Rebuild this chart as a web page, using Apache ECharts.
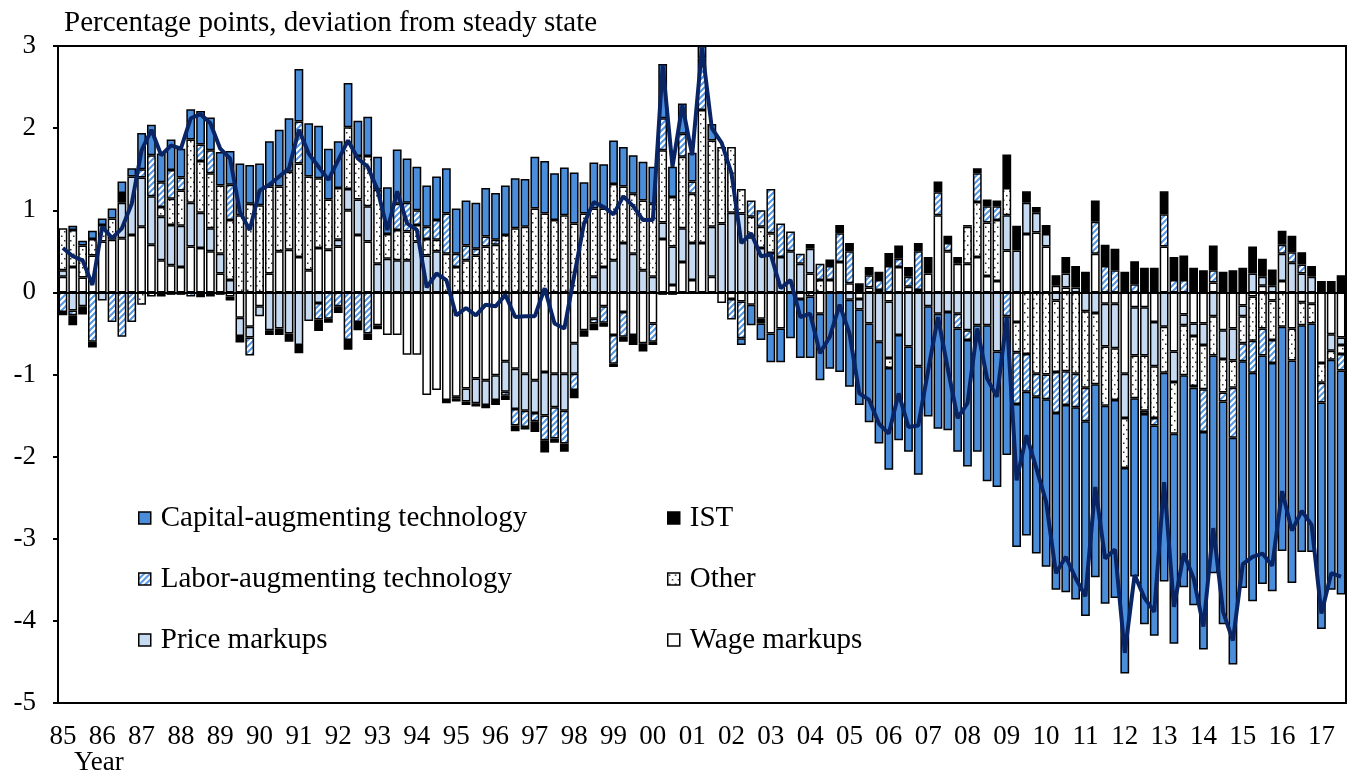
<!DOCTYPE html>
<html>
<head>
<meta charset="utf-8">
<script src="https://cdn.jsdelivr.net/npm/echarts@6/dist/echarts.min.js"></script>
<style>
  html, body { margin: 0; padding: 0; background: #fff; }
  #chart { width: 1353px; height: 777px; }
</style>
</head>
<body>
<div id="chart"></div>
<script>
// years shown on the axis; 2017 has three quarters only
const years = ['85','86','87','88','89','90','91','92','93','94','95','96','97','98','99','00','01','02','03','04','05','06','07','08','09','10','11','12','13','14','15','16','17'];

// contributions, quarterly 1985Q1 - 2017Q3
const wage = [
  0.19,0.31,0.18,0.45,0.62,0.64,0.66,0.7,0.8,0.58,
  0.39,0.33,0.31,0.56,0.54,0.5,0.23,-0.05,-0.31,-0.42,
  -0.17,0.23,0.5,0.52,0.43,0.27,0.54,0.52,0.56,1.0,
  0.7,0.62,-0.4,-0.52,-0.52,-0.76,-0.76,-1.25,-1.19,-1.31,
  -1.27,-1.17,-1.05,-1.07,-1.01,-0.84,-0.93,-0.99,-1.07,-0.97,
  -0.99,-0.99,-0.62,-0.46,-0.32,-0.17,-0.52,-0.24,-0.52,-0.62,
  -0.38,0.65,0.09,0.37,0.15,0.6,0.19,-0.13,-0.08,-0.11,
  -0.15,-0.32,-0.5,-0.44,0,-0.08,0.23,-0.26,0.15,0.37,
  0.11,-0.08,0.06,0.03,-0.11,0.31,0.07,0.03,0.23,0.94,
  0.5,0.35,0.35,0.43,0.2,0.14,0.51,-0.36,0.71,0.73,
  0.56,0.08,0.06,0,0,0.47,-0.14,-0.14,-0.99,-0.18,
  -0.18,-0.36,0.56,-0.72,-0.27,-0.38,-0.38,0.12,-0.46,-0.44,
  -0.16,-0.05,0.08,-0.1,0.14,-0.44,-0.12,-0.14,-0.86,-0.51,
  -0.55
];
const price = [
  0.08,-0.22,-0.17,0,-0.1,0,0.43,0.71,0.6,0.59,
  0.53,0.49,0.5,0.53,0.43,0.28,0.24,0.15,-0.22,-0.13,
  -0.12,-0.46,-0.44,-0.5,-0.64,-0.35,-0.13,0,0.08,0.26,
  0.43,0.43,0.35,0.41,0.39,0.39,0.62,0.45,0.5,0,
  -0.02,-0.16,-0.3,-0.3,-0.3,-0.37,-0.49,-0.45,-0.4,-0.53,
  -0.41,-0.45,-0.37,0,0.19,0.31,0.39,0.6,0.47,0.27,
  0.19,0.2,0.47,0.41,0.45,0,0.61,0.84,0.97,0.96,
  0.67,0.54,0.48,0.43,0.5,0.35,0.3,0,0,0,
  -0.09,-0.13,-0.38,-0.6,-0.69,-0.52,-0.66,-0.9,-0.17,-0.26,
  -0.24,-0.26,-0.46,-0.4,-0.4,-0.72,0.43,0.51,0.38,0.24,
  0.15,-0.1,0.17,0.06,-0.23,-0.25,-0.52,-0.54,-0.54,-0.59,
  -0.59,-0.54,-0.42,-0.37,-0.13,-0.15,-0.26,-0.29,-0.35,-0.39,
  -0.13,0.23,0.11,0.08,0.33,0.36,0.23,0.19,0,-0.2,
  -0.09
];
const other = [
  0.51,0.45,0.39,0.2,0.2,0.26,0,0,-0.15,-0.05,
  0.12,0.32,0.43,0.77,0.63,0.67,0.83,0.73,0.94,1.08,
  1.06,1.06,0.79,0.95,1.14,1.14,0.85,0.61,0.63,0.75,
  0.53,0.61,0.9,0.3,0.37,0.35,0.2,0.2,0.14,0.47,
  0.31,0.39,0.45,0.56,0.58,0.7,0.78,0.8,1.02,0.96,
  0.88,0.94,0.84,0.96,0.83,0.71,0.93,0.69,0.73,0.85,
  0.89,0.88,0.6,0.87,0.6,1.62,1.05,0.93,0.8,0.3,
  0.25,0.26,0.24,0,0,0,-0.05,0.15,0,0,
  0,0,0,0,-0.12,0,0,0,0,0,
  0,0,0.45,0.67,0.65,0.74,0.33,-0.37,-0.75,-0.99,
  -1.0,-0.87,-0.96,-0.99,-0.93,-0.87,-0.72,-0.63,-0.61,-0.52,
  -0.67,-0.63,-0.56,-0.63,-0.61,-0.61,-0.54,-0.48,-0.41,-0.33,
  -0.33,-0.54,-0.44,-0.48,-0.42,-0.39,-0.28,-0.24,-0.24,-0.11,
  -0.11
];
const labor = [
  -0.24,-0.06,0,-0.6,0,-0.36,-0.54,-0.36,0.1,0.5,
  0.3,0.35,0.16,-0.05,0.2,0.28,-0.03,0.43,0,-0.22,
  0,0,0,0,0.51,0,-0.2,-0.32,-0.17,-0.58,
  -0.36,-0.5,0,0,0.32,0.35,0.18,0.15,0.24,0.49,
  0.16,0.18,0.08,0.12,0.06,-0.05,-0.2,-0.2,-0.1,-0.3,
  -0.38,-0.4,-0.2,0,-0.06,-0.2,-0.35,-0.3,0,0,
  -0.22,0.39,0,0.28,0.15,0.63,0,0,-0.25,-0.45,
  0.2,0.2,0.54,0.41,0.24,0.12,0,0.2,0.17,0.35,
  0.39,0,0.15,0.12,0.32,0.1,0.12,0.47,0,0.28,
  0.1,-0.18,-0.12,0.35,0.2,0.17,-0.29,-0.63,-0.46,-0.28,
  -0.3,-0.5,-0.41,-0.41,-0.41,0.39,0.32,0.27,0,0.1,
  -0.04,-0.09,0.39,0.15,0.15,-0.02,-0.52,0.15,-0.11,-0.61,
  -0.22,-0.39,-0.33,-0.28,0.11,0.13,0.11,0,-0.24,0,
  -0.2
];
const ist = [
  -0.04,-0.12,-0.1,-0.07,0,0,0.12,0,0,0,
  -0.05,-0.03,-0.03,0,-0.06,-0.05,0,-0.05,-0.08,0,
  0,-0.06,-0.08,-0.1,-0.1,0,-0.14,-0.05,-0.08,-0.12,
  -0.1,-0.08,-0.05,0,0,0,0,0,0,-0.04,
  -0.04,-0.04,-0.04,-0.04,-0.06,-0.05,-0.07,-0.03,-0.13,-0.15,
  -0.05,-0.1,-0.1,-0.08,-0.08,-0.05,-0.04,-0.06,-0.12,-0.1,
  -0.04,-0.03,-0.03,0,0,0,0,0,0,0,
  0,-0.06,0,0,0,0,0.06,0,0.08,0.1,
  0.1,0.11,0.1,0.1,0.16,0.16,0.12,0.1,0.2,0.13,
  0.09,0.08,0.02,0.06,0.08,0.07,0.41,0.3,0.14,0.07,
  0.11,0.13,0.2,0.26,0.25,0.26,0.26,0.26,0.25,0.28,
  0.3,0.3,0.28,0.28,0.3,0.3,0.27,0.3,0.25,0.27,
  0.3,0.33,0.22,0.2,0.17,0.2,0.15,0.13,0.14,0.14,
  0.21
];
const capital = [
  0,0.05,0.06,0.1,0.08,0.12,0.14,0.1,0.44,0.37,
  0.35,0.37,0.35,0.37,0.41,0.4,0.41,0.41,0.63,0.47,
  0.51,0.55,0.69,0.65,0.64,0.65,0.64,0.62,0.57,0.54,
  0.43,0.48,0.4,0.57,0.66,0.54,0.53,0.5,0.53,0.55,
  0.55,0.55,0.56,0.59,0.57,0.6,0.61,0.58,0.63,0.64,
  0.57,0.58,0.62,0.38,0.56,0.54,0.53,0.48,0.47,0.47,
  0.45,0.66,0.37,0.37,0.35,0.15,0.2,0,0,-0.08,
  -0.25,-0.2,-0.35,-0.41,-0.56,-0.72,-0.75,-0.81,-0.93,-0.97,
  -1.06,-1.16,-1.2,-1.24,-1.24,-1.28,-1.28,-1.32,-1.34,-1.4,
  -1.44,-1.5,-1.54,-1.54,-1.9,-1.65,-1.69,-1.74,-1.75,-1.91,
  -2.04,-2.15,-2.28,-2.34,-2.37,-2.35,-2.41,-2.41,-2.5,-2.17,
  -2.56,-2.56,-2.54,-2.56,-2.58,-2.65,-2.65,-2.65,-2.71,-2.76,
  -2.76,-2.78,-2.78,-2.78,-2.73,-2.71,-2.76,-2.78,-2.76,-2.8,
  -2.73
];
// total deviation (line)
const total = [
  0.54,0.44,0.39,0.09,0.8,0.66,0.78,1.08,1.73,1.98,
  1.67,1.79,1.75,2.12,2.17,2.06,1.75,1.63,0.98,0.76,
  1.24,1.31,1.41,1.51,1.98,1.69,1.53,1.37,1.61,1.85,
  1.63,1.53,1.25,0.76,1.23,0.84,0.76,0.06,0.23,0.15,
  -0.28,-0.19,-0.28,-0.15,-0.17,-0.03,-0.3,-0.29,-0.29,0.05,
  -0.38,-0.44,0.2,0.84,1.1,1.04,0.95,1.17,1.05,0.88,
  0.88,2.77,1.53,2.28,1.67,2.98,2.0,1.82,1.45,0.6,
  0.72,0.44,0.46,0.05,0.15,-0.3,-0.26,-0.74,-0.54,-0.15,
  -0.5,-1.23,-1.31,-1.6,-1.72,-1.23,-1.64,-1.62,-0.95,-0.3,
  -0.93,-1.53,-1.35,-0.44,-1.05,-1.27,-0.31,-2.29,-1.74,-2.14,
  -2.55,-3.42,-3.22,-3.48,-3.7,-2.37,-3.24,-3.13,-4.39,-3.44,
  -3.72,-3.89,-2.31,-3.83,-3.18,-3.48,-4.07,-2.87,-3.89,-4.24,
  -3.31,-3.22,-3.18,-3.33,-2.42,-2.9,-2.66,-2.83,-3.91,-3.42,
  -3.46
];

const quarters = [];
years.forEach((y, k) => {
  const n = k === years.length - 1 ? 3 : 4;
  for (let q = 1; q <= n; q++) quarters.push(y + 'Q' + q);
});

const FONT = 'Liberation Serif';
const CAP_BLUE = '#4a8ddb';
const LIGHT_BLUE = '#c6daf2';

function hatchPattern() {
  const c = document.createElement('canvas');
  c.width = 6; c.height = 6;
  const g = c.getContext('2d');
  g.fillStyle = '#fff';
  g.fillRect(0, 0, 6, 6);
  g.strokeStyle = '#5596e2';
  g.lineWidth = 2;
  g.beginPath();
  g.moveTo(-1, 7); g.lineTo(7, -1);
  g.moveTo(-4, 4); g.lineTo(4, -4);
  g.moveTo(2, 10); g.lineTo(10, 2);
  g.stroke();
  return c;
}

function dotPattern() {
  const c = document.createElement('canvas');
  c.width = 6; c.height = 9;
  const g = c.getContext('2d');
  g.fillStyle = '#fff';
  g.fillRect(0, 0, 6, 9);
  g.fillStyle = '#333';
  g.fillRect(1, 1.5, 1.5, 1.5);
  g.fillRect(4, 6, 1.5, 1.5);
  return c;
}

// zero contributions are not drawn
const clean = arr => arr.map(v => (v === 0 ? '-' : v));

function barSeries(name, data, color) {
  return {
    name: name,
    type: 'bar',
    stack: 'total',
    barWidth: 8.8,
    data: clean(data),
    itemStyle: { color: color, borderColor: '#000', borderWidth: 1.5 },
    emphasis: { disabled: true }
  };
}

const chart = echarts.init(document.getElementById('chart'), null, { renderer: 'canvas' });

const legendText = { fontFamily: FONT, fontSize: 29, color: '#000', lineHeight: 32, padding: [0, 0, 0, 5] };

chart.setOption({
  animation: false,
  backgroundColor: '#fff',
  textStyle: { fontFamily: FONT },
  title: {
    text: 'Percentage points, deviation from steady state',
    left: 59, top: 4,
    textStyle: { fontFamily: FONT, fontSize: 29, fontWeight: 'normal', color: '#000' }
  },
  legend: [
    {
      orient: 'vertical', left: 138, top: 502, padding: 0,
      itemWidth: 12, itemHeight: 12, itemGap: 29, icon: 'rect',
      itemStyle: { borderColor: '#000', borderWidth: 1.5 },
      textStyle: legendText,
      selectedMode: false,
      data: ['Capital-augmenting technology', 'Labor-augmenting technology', 'Price markups']
    },
    {
      orient: 'vertical', left: 667, top: 502, padding: 0,
      itemWidth: 12, itemHeight: 12, itemGap: 29, icon: 'rect',
      itemStyle: { borderColor: '#000', borderWidth: 1.5 },
      textStyle: legendText,
      selectedMode: false,
      data: ['IST', 'Other', 'Wage markups']
    }
  ],
  grid: {
    left: 58, right: 7, top: 46, bottom: 74,
    show: true, borderColor: '#000', borderWidth: 2, backgroundColor: 'transparent'
  },
  xAxis: {
    type: 'category',
    data: quarters,
    boundaryGap: true,
    axisLine: { onZero: false, lineStyle: { color: '#000', width: 2 } },
    axisTick: {
      inside: true, length: 8, interval: 3,
      lineStyle: { color: '#000', width: 2 }
    },
    axisLabel: {
      interval: 3,
      formatter: v => v.slice(0, 2),
      fontFamily: FONT, fontSize: 27, color: '#000', margin: 20
    },
    splitLine: { show: false }
  },
  yAxis: {
    type: 'value',
    min: -5, max: 3, interval: 1,
    axisLine: { show: true, lineStyle: { color: '#000', width: 2 } },
    axisTick: { show: true, length: 5, lineStyle: { color: '#000', width: 2 } },
    axisLabel: { fontFamily: FONT, fontSize: 27, color: '#000', margin: 22 },
    splitLine: { show: false }
  },
  graphic: [
    {
      type: 'text', left: 74, top: 749,
      style: { text: 'Year', font: '27px "Liberation Serif"', fill: '#000' }
    }
  ],
  series: [
    barSeries('Wage markups', wage, '#fff'),
    barSeries('Price markups', price, LIGHT_BLUE),
    barSeries('Other', other, { image: dotPattern(), repeat: 'repeat' }),
    barSeries('Labor-augmenting technology', labor, { image: hatchPattern(), repeat: 'repeat' }),
    barSeries('IST', ist, '#000'),
    barSeries('Capital-augmenting technology', capital, CAP_BLUE),
    {
      name: 'Total',
      type: 'line',
      data: total,
      symbol: 'none',
      z: 5,
      lineStyle: { color: '#0a2566', width: 4 },
      markLine: {
        silent: true, symbol: 'none', label: { show: false },
        lineStyle: { color: '#000', width: 2, type: 'solid' },
        data: [{ yAxis: 0 }]
      }
    }
  ]
});
</script>
</body>
</html>
